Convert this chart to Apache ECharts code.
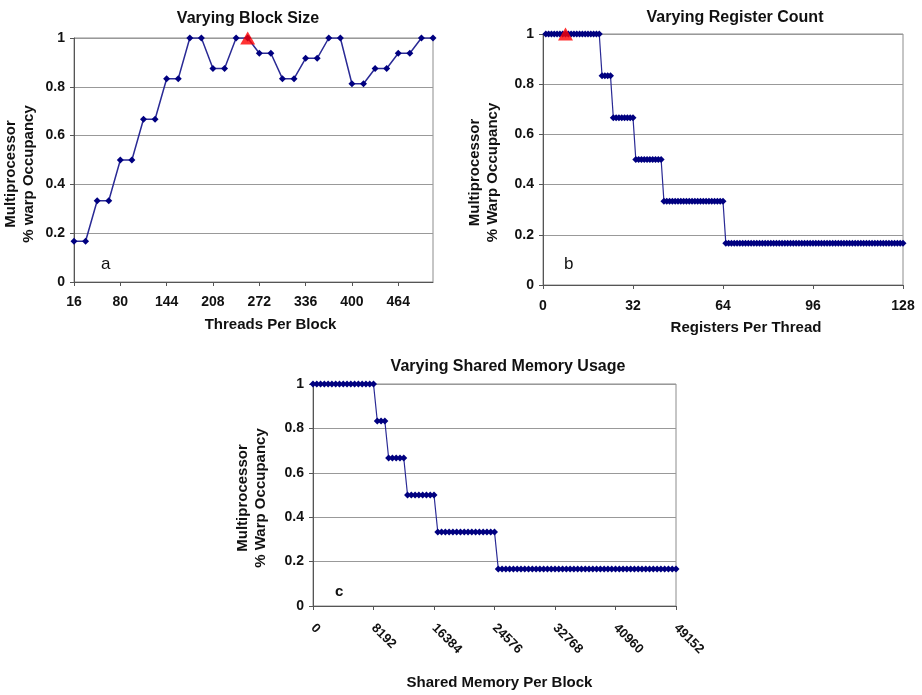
<!DOCTYPE html>
<html>
<head>
<meta charset="utf-8">
<script src="https://cdn.jsdelivr.net/npm/echarts@6/dist/echarts.min.js"></script>
<style>
  html, body { margin: 0; padding: 0; background: #fff; }
  #main { width: 922px; height: 695px; }
</style>
</head>
<body>
<div id="main"></div>
<script>
// (a) varying block size
var blockSizes = [16, 32, 48, 64, 80, 96, 112, 128, 144, 160, 176, 192, 208, 224, 240, 256,
    272, 288, 304, 320, 336, 352, 368, 384, 400, 416, 432, 448, 464, 480, 496, 512];
var blockOcc = [0.1667, 0.1667, 0.3333, 0.3333, 0.5, 0.5, 0.6667, 0.6667, 0.8333, 0.8333, 1, 1, 0.875, 0.875, 1, 1,
    0.9375, 0.9375, 0.8333, 0.8333, 0.9167, 0.9167, 1, 1, 0.8125, 0.8125, 0.875, 0.875, 0.9375, 0.9375, 1, 1];
var peakBlock = 256;

// (b) varying register count
var regCounts = [1, 2, 3, 4, 5, 6, 7, 8, 9, 10, 11, 12, 13, 14, 15, 16, 17, 18, 19, 20,
    21, 22, 23, 24, 25, 26, 27, 28, 29, 30, 31, 32, 33, 34, 35, 36, 37, 38, 39, 40,
    41, 42, 43, 44, 45, 46, 47, 48, 49, 50, 51, 52, 53, 54, 55, 56, 57, 58, 59, 60,
    61, 62, 63, 64, 65, 66, 67, 68, 69, 70, 71, 72, 73, 74, 75, 76, 77, 78, 79, 80,
    81, 82, 83, 84, 85, 86, 87, 88, 89, 90, 91, 92, 93, 94, 95, 96, 97, 98, 99, 100,
    101, 102, 103, 104, 105, 106, 107, 108, 109, 110, 111, 112, 113, 114, 115, 116, 117, 118, 119, 120,
    121, 122, 123, 124, 125, 126, 127, 128];
var regOcc = [1, 1, 1, 1, 1, 1, 1, 1, 1, 1, 1, 1, 1, 1, 1, 1, 1, 1, 1, 1,
    0.8333, 0.8333, 0.8333, 0.8333,
    0.6667, 0.6667, 0.6667, 0.6667, 0.6667, 0.6667, 0.6667, 0.6667,
    0.5, 0.5, 0.5, 0.5, 0.5, 0.5, 0.5, 0.5, 0.5, 0.5,
    0.3333, 0.3333, 0.3333, 0.3333, 0.3333, 0.3333, 0.3333, 0.3333, 0.3333, 0.3333, 0.3333,
    0.3333, 0.3333, 0.3333, 0.3333, 0.3333, 0.3333, 0.3333, 0.3333, 0.3333, 0.3333, 0.3333,
    0.1667, 0.1667, 0.1667, 0.1667, 0.1667, 0.1667, 0.1667, 0.1667, 0.1667, 0.1667, 0.1667, 0.1667, 0.1667, 0.1667, 0.1667, 0.1667,
    0.1667, 0.1667, 0.1667, 0.1667, 0.1667, 0.1667, 0.1667, 0.1667, 0.1667, 0.1667, 0.1667, 0.1667, 0.1667, 0.1667, 0.1667, 0.1667,
    0.1667, 0.1667, 0.1667, 0.1667, 0.1667, 0.1667, 0.1667, 0.1667, 0.1667, 0.1667, 0.1667, 0.1667, 0.1667, 0.1667, 0.1667, 0.1667,
    0.1667, 0.1667, 0.1667, 0.1667, 0.1667, 0.1667, 0.1667, 0.1667, 0.1667, 0.1667, 0.1667, 0.1667, 0.1667, 0.1667, 0.1667, 0.1667];
var peakReg = 8;

// (c) varying shared memory usage
var smemSizes = [0, 512, 1024, 1536, 2048, 2560, 3072, 3584, 4096, 4608, 5120, 5632, 6144, 6656, 7168, 7680, 8192,
    8704, 9216, 9728,
    10240, 10752, 11264, 11776, 12288,
    12800, 13312, 13824, 14336, 14848, 15360, 15872, 16384,
    16896, 17408, 17920, 18432, 18944, 19456, 19968, 20480, 20992, 21504, 22016, 22528, 23040, 23552, 24064, 24576,
    25088, 25600, 26112, 26624, 27136, 27648, 28160, 28672, 29184, 29696, 30208, 30720, 31232, 31744, 32256, 32768,
    33280, 33792, 34304, 34816, 35328, 35840, 36352, 36864, 37376, 37888, 38400, 38912, 39424, 39936, 40448, 40960,
    41472, 41984, 42496, 43008, 43520, 44032, 44544, 45056, 45568, 46080, 46592, 47104, 47616, 48128, 48640, 49152];
var smemOcc = [1, 1, 1, 1, 1, 1, 1, 1, 1, 1, 1, 1, 1, 1, 1, 1, 1,
    0.8333, 0.8333, 0.8333,
    0.6667, 0.6667, 0.6667, 0.6667, 0.6667,
    0.5, 0.5, 0.5, 0.5, 0.5, 0.5, 0.5, 0.5,
    0.3333, 0.3333, 0.3333, 0.3333, 0.3333, 0.3333, 0.3333, 0.3333, 0.3333, 0.3333, 0.3333, 0.3333, 0.3333, 0.3333, 0.3333, 0.3333,
    0.1667, 0.1667, 0.1667, 0.1667, 0.1667, 0.1667, 0.1667, 0.1667, 0.1667, 0.1667, 0.1667, 0.1667, 0.1667, 0.1667, 0.1667, 0.1667,
    0.1667, 0.1667, 0.1667, 0.1667, 0.1667, 0.1667, 0.1667, 0.1667, 0.1667, 0.1667, 0.1667, 0.1667, 0.1667, 0.1667, 0.1667, 0.1667,
    0.1667, 0.1667, 0.1667, 0.1667, 0.1667, 0.1667, 0.1667, 0.1667, 0.1667, 0.1667, 0.1667, 0.1667, 0.1667, 0.1667, 0.1667, 0.1667];

var FONT = '"Liberation Sans", Arial, sans-serif';
var TXT = '#111';

function pairs(xs, ys) {
    var out = [];
    for (var i = 0; i < xs.length; i++) out.push([xs[i], ys[i]]);
    return out;
}

function yAxisOf(gridIndex, name, gap, pad) {
    return {
        gridIndex: gridIndex,
        type: 'value',
        min: 0, max: 1, interval: 0.2,
        name: name,
        nameLocation: 'middle',
        nameGap: gap,
        nameTextStyle: { fontFamily: FONT, fontWeight: 'bold', fontSize: 15, color: TXT, lineHeight: 18, padding: pad },
        axisLine: { show: true, lineStyle: { color: '#555', width: 1 } },
        axisTick: { show: true, length: 4, lineStyle: { color: '#555' } },
        axisLabel: { margin: 9, fontFamily: FONT, fontWeight: 'bold', fontSize: 14, color: TXT },
        splitLine: { show: true, lineStyle: { color: '#999', width: 1 } }
    };
}

var titleFont = { fontFamily: FONT, fontWeight: 'bold', fontSize: 16, color: TXT };
var nameFont = { fontFamily: FONT, fontWeight: 'bold', fontSize: 15, color: TXT };
var dotStyle = { color: '#000080' };

var myChart = echarts.init(document.getElementById('main'));
var option = {
    backgroundColor: '#fff',
    animation: false,
    title: [
        { text: 'Varying Block Size', left: 243, top: 6, textAlign: 'center', textStyle: titleFont },
        { text: 'Varying Register Count', left: 730, top: 5, textAlign: 'center', textStyle: titleFont },
        { text: 'Varying Shared Memory Usage', left: 503, top: 354, textAlign: 'center', textStyle: titleFont },
        { text: 'a', left: 96, top: 251, textStyle: { fontFamily: FONT, fontWeight: 'normal', fontSize: 17, color: TXT } },
        { text: 'b', left: 559, top: 251, textStyle: { fontFamily: FONT, fontWeight: 'normal', fontSize: 17, color: TXT } },
        { text: 'c', left: 330, top: 579, textStyle: { fontFamily: FONT, fontWeight: 'bold', fontSize: 15, color: TXT } }
    ],
    grid: [
        { left: 74, top: 38, width: 359, height: 244, show: true, borderColor: '#8c8c8c', borderWidth: 1 },
        { left: 543, top: 34, width: 360, height: 251, show: true, borderColor: '#8c8c8c', borderWidth: 1 },
        { left: 313, top: 384, width: 363, height: 222, show: true, borderColor: '#8c8c8c', borderWidth: 1 }
    ],
    xAxis: [
        {
            gridIndex: 0, type: 'category', data: blockSizes, boundaryGap: false,
            name: 'Threads Per Block', nameLocation: 'middle', nameGap: 35,
            nameTextStyle: Object.assign({ padding: [0, 0, 0, 34] }, nameFont),
            axisLine: { lineStyle: { color: '#555' } },
            axisTick: { interval: 3, length: 4, lineStyle: { color: '#555' } },
            axisLabel: { interval: 3, margin: 13, fontFamily: FONT, fontWeight: 'bold', fontSize: 14, color: TXT },
            splitLine: { show: false }
        },
        {
            gridIndex: 1, type: 'value', min: 0, max: 128, interval: 32,
            name: 'Registers Per Thread', nameLocation: 'middle', nameGap: 35,
            nameTextStyle: Object.assign({ padding: [0, 0, 0, 46] }, nameFont),
            axisLine: { lineStyle: { color: '#555' } },
            axisTick: { length: 4, lineStyle: { color: '#555' } },
            axisLabel: { margin: 14, fontFamily: FONT, fontWeight: 'bold', fontSize: 14, color: TXT },
            splitLine: { show: false }
        },
        {
            gridIndex: 2, type: 'value', min: 0, max: 49152, interval: 8192,
            name: 'Shared Memory Per Block', nameLocation: 'middle', nameGap: 69,
            nameTextStyle: Object.assign({ padding: [0, 0, 0, 10] }, nameFont),
            axisLine: { lineStyle: { color: '#555' } },
            axisTick: { length: 4, lineStyle: { color: '#555' } },
            axisLabel: { rotate: -45, margin: 20, fontFamily: FONT, fontWeight: 'bold', fontSize: 13, color: TXT,
                         formatter: function (v) { return String(v); } },
            splitLine: { show: false }
        }
    ],
    yAxis: [
        yAxisOf(0, 'Multiprocessor\n% warp Occupancy', 36, [0, 28, 0, 0]),
        yAxisOf(1, 'Multiprocessor\n% Warp Occupancy', 41, [0, 26, 0, 0]),
        yAxisOf(2, 'Multiprocessor\n% Warp Occupancy', 43, [0, 6, 0, 0])
    ],
    series: [
        {
            type: 'line', xAxisIndex: 0, yAxisIndex: 0, data: blockOcc,
            symbol: 'diamond', symbolSize: 7, showAllSymbol: true,
            lineStyle: { color: '#2a2a95', width: 1.5 }, itemStyle: dotStyle
        },
        {
            type: 'scatter', xAxisIndex: 0, yAxisIndex: 0,
            data: [[blockSizes.indexOf(peakBlock), 1]],
            symbol: 'triangle', symbolSize: [15, 13], itemStyle: { color: '#ff0000' }, z: 5
        },
        {
            type: 'line', xAxisIndex: 1, yAxisIndex: 1, data: pairs(regCounts, regOcc),
            symbol: 'diamond', symbolSize: 7, showAllSymbol: true,
            lineStyle: { color: '#2a2a95', width: 1.2 }, itemStyle: dotStyle
        },
        {
            type: 'scatter', xAxisIndex: 1, yAxisIndex: 1, data: [[peakReg, 1]],
            symbol: 'triangle', symbolSize: [15, 13], itemStyle: { color: '#ff0000' }, z: 5
        },
        {
            type: 'line', xAxisIndex: 2, yAxisIndex: 2, data: pairs(smemSizes, smemOcc),
            symbol: 'diamond', symbolSize: 7, showAllSymbol: true,
            lineStyle: { color: '#2a2a95', width: 1.2 }, itemStyle: dotStyle
        }
    ]
};
myChart.setOption(option);
</script>
</body>
</html>
